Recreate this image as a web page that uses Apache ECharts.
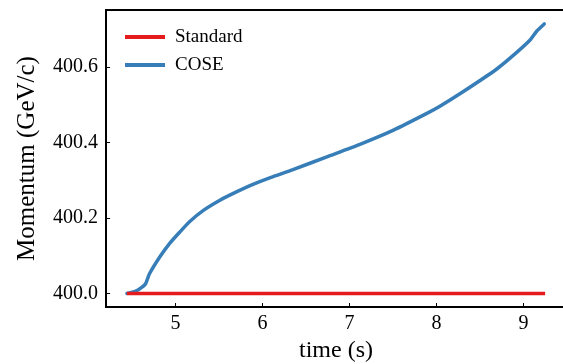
<!DOCTYPE html>
<html>
<head>
<meta charset="utf-8">
<script src="https://cdn.jsdelivr.net/npm/echarts@6/dist/echarts.min.js"></script>
<style>html,body{margin:0;padding:0;background:#fff;}#c{width:563px;height:364px;}</style>
</head>
<body>
<div id="c"></div>
<script>
var seriesNames = ['Standard', 'COSE'];
var standardTime = [4.44, 9.25];
var standardMomentum = [400.0, 400.0];
var coseTime = [4.44, 4.55, 4.65, 4.70, 4.82, 4.93, 5.05, 5.16, 5.32, 5.51, 5.70, 5.89, 6.09, 6.35, 6.74, 7.12, 7.50, 7.89, 8.04, 8.31, 8.69, 8.92, 9.08, 9.15, 9.24];
var coseMomentum = [400.0, 400.007, 400.024, 400.052, 400.097, 400.132, 400.163, 400.19, 400.22, 400.247, 400.269, 400.289, 400.307, 400.328, 400.362, 400.395, 400.432, 400.477, 400.496, 400.535, 400.594, 400.638, 400.672, 400.694, 400.714];
var xTicks = [5, 6, 7, 8, 9];
var yTicks = [400.0, 400.2, 400.4, 400.6];

function pairs(a, b) { return a.map(function (v, i) { return [v, b[i]]; }); }

var FONT = 'Liberation Serif';
var chart = echarts.init(document.getElementById('c'), null, {renderer: 'canvas'});
chart.setOption({
  animation: false,
  backgroundColor: '#fff',
  grid: {left: 106, top: 10, right: -3, bottom: 57, show: true, borderColor: '#000', borderWidth: 2,
         containLabel: false, outerBoundsMode: 'none'},
  legend: {
    left: 125, top: 27, orient: 'vertical', itemWidth: 40, itemHeight: 4, itemGap: 8, padding: 0,
    icon: 'rect',
    textStyle: {fontFamily: FONT, fontSize: 19, color: '#000', lineHeight: 20, padding: [0, 0, 0, 5]},
    data: seriesNames
  },
  xAxis: {
    type: 'value', min: 4.2, max: 9.49,
    name: 'time (s)', nameLocation: 'middle', nameGap: 31,
    nameTextStyle: {fontFamily: FONT, fontSize: 24, color: '#000'},
    axisLine: {show: true, lineStyle: {color: '#000', width: 2}},
    axisTick: {show: true, inside: true, length: 4, customValues: xTicks, lineStyle: {color: '#000', width: 1}},
    axisLabel: {customValues: xTicks, fontFamily: FONT, fontSize: 20, color: '#000', margin: 7},
    splitLine: {show: false}
  },
  yAxis: {
    type: 'value', min: 399.964, max: 400.751,
    name: 'Momentum (GeV/c)', nameLocation: 'middle', nameGap: 66,
    nameTextStyle: {fontFamily: FONT, fontSize: 25, color: '#000'},
    axisLine: {show: true, lineStyle: {color: '#000', width: 2}},
    axisTick: {show: true, inside: true, length: 4, customValues: yTicks, lineStyle: {color: '#000', width: 1}},
    axisLabel: {customValues: yTicks, fontFamily: FONT, fontSize: 20, color: '#000', margin: 8,
      formatter: function (v) { return v.toFixed(1); }},
    splitLine: {show: false}
  },
  series: [
    {name: seriesNames[0], type: 'line', data: pairs(standardTime, standardMomentum), showSymbol: false,
     lineStyle: {color: '#e41a1c', width: 3.5}, itemStyle: {color: '#e41a1c'}, z: 3},
    {name: seriesNames[1], type: 'line', data: pairs(coseTime, coseMomentum), showSymbol: false, smooth: 0.2,
     lineStyle: {color: '#377eb8', width: 3.5, cap: 'round'}, itemStyle: {color: '#377eb8'}, z: 2}
  ]
});
</script>
</body>
</html>
